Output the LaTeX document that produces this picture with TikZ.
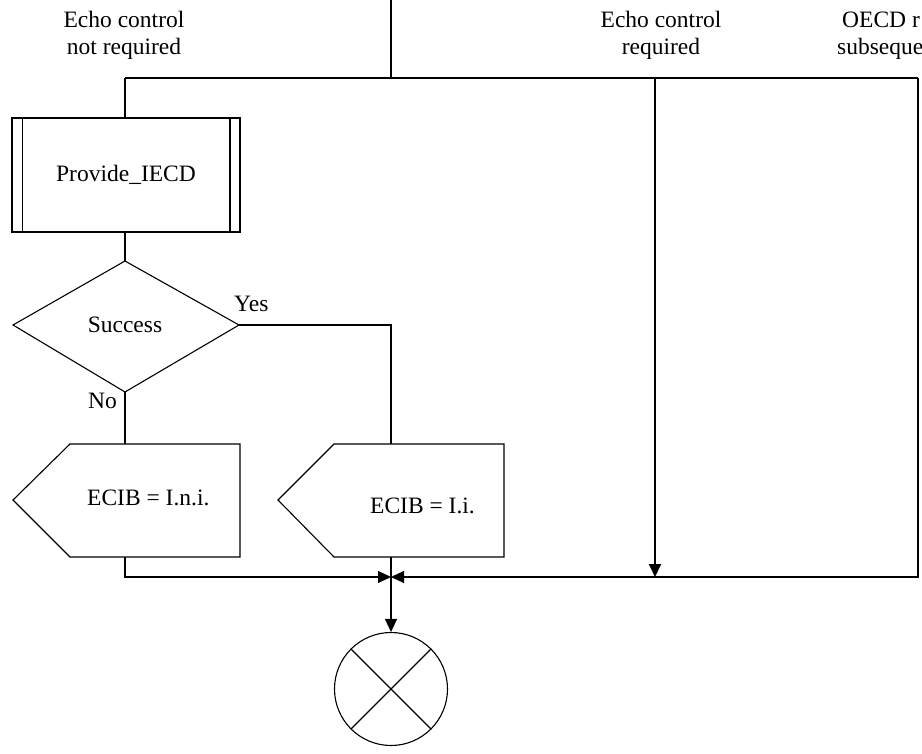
\documentclass[tikz,border=0pt]{standalone}
\usepackage{fontspec}
\setmainfont{Liberation Serif}
\usetikzlibrary{arrows.meta}
\begin{document}
\begin{tikzpicture}[x=1pt,y=-1pt,
  line/.style={line width=1.1pt,line join=miter},
  thickline/.style={line width=1.9pt},
  arr/.style={-{Triangle[length=13pt,width=12pt]}},
  lbl/.style={inner sep=0pt,font=\fontsize{23.5}{27}\selectfont},
  lblc/.style={lbl,align=center}]
\useasboundingbox (0,0) rectangle (922,754);
% coordinates
\coordinate (topin) at (391,0);
\coordinate (tsplit) at (391,78);
\coordinate (tl) at (125,78);
\coordinate (tm) at (655,78);
\coordinate (tr) at (918,78);
\coordinate (bl) at (125,577);
\coordinate (bm) at (655,577);
\coordinate (br) at (918,577);
\coordinate (join) at (391,577);
\coordinate (yesturn) at (391,325);
% labels at top
\node[lblc,anchor=base] (l1) at (124,55) {Echo control\\not required};
\node[lblc,anchor=base] (l2) at (661,55) {Echo control\\required};
\node[lbl,anchor=base west] (l3a) at (842,28) {OECD r};
\node[lbl,anchor=base west] (l3b) at (837,55) {subseque};
% procedure box
\node[draw,line,minimum width=228pt,minimum height=114pt,inner sep=0pt] (proc) at (126,175) {};
\node[lbl] (proct) at (proc.center) {Provide\_IECD};
\draw[thickline] ([xshift=11pt]proc.north west) -- ([xshift=11pt]proc.south west);
\draw[thickline] ([xshift=-11pt]proc.north east) -- ([xshift=-11pt]proc.south east);
% decision
\coordinate (dtop) at (125,261);
\coordinate (dright) at (239,325);
\coordinate (dbot) at (125,392);
\coordinate (dleft) at (13,325);
\draw[line] (dtop) -- (dright) -- (dbot) -- (dleft) -- cycle;
\node[lbl,anchor=base] (succ) at (125,333) {Success};
\node[lbl,anchor=base west] (yes) at (234,312) {Yes};
\node[lbl,anchor=base west] (no) at (88,409) {No};
% outputs
\coordinate (p1top) at (125,444);
\coordinate (p1bot) at (125,557);
\draw[line] (13,500) -- (70,444) -- (240,444) -- (240,557) -- (70,557) -- cycle;
\node[lbl,anchor=base west] (p1t) at (87,505) {ECIB = I.n.i.};
\coordinate (p2top) at (391,444);
\coordinate (p2bot) at (391,557);
\draw[line] (278,500) -- (334,444) -- (504,444) -- (504,557) -- (334,557) -- cycle;
\node[lbl,anchor=base west] (p2t) at (370,513) {ECIB = I.i.};
% end
\node[draw,line,circle,minimum size=113pt,inner sep=0pt] (stop) at (391,689) {};
\draw[line] (stop.45) -- (stop.225);
\draw[line] (stop.135) -- (stop.315);
% connectors
\draw[line,line width=1.6pt] (topin) -- (tsplit);
\draw[line] (tl) -- (tr);
\draw[line] (tl) -- (proc.north -| tl);
\draw[line] (proc.south -| tl) -- (dtop);
\draw[line] (dright) -- (yesturn) -- (p2top);
\draw[line] (dbot) -- (p1top);
\draw[line,arr] (p1bot) -- (bl) -- (join);
\draw[line,arr] (tr) -- (br) -- (join);
\draw[thickline,arr] (tm) -- (bm);
\draw[line,arr] (p2bot) -- (stop.north);
\end{tikzpicture}
\end{document}
